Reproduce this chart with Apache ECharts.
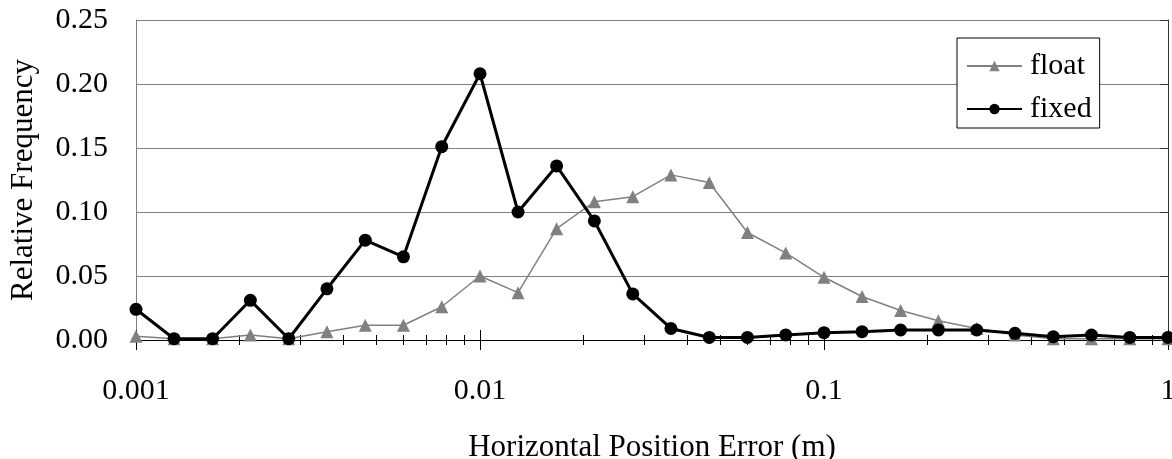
<!DOCTYPE html>
<html>
<head>
<meta charset="UTF-8">
<title>Horizontal Position Error</title>
<script src="https://cdn.jsdelivr.net/npm/echarts@6/dist/echarts.min.js"></script>
<style>
  html, body { margin: 0; padding: 0; background: #fff; }
  #chart { width: 1172px; height: 459px; }
</style>
</head>
<body>
<div id="chart"></div>
<script type="text/javascript">
  // bin centres (m), log spaced
  var binX = [0.001, 0.00129, 0.00167, 0.00215, 0.00278, 0.00359, 0.00464, 0.00599, 0.00774,
              0.01, 0.0129, 0.0167, 0.0215, 0.0278, 0.0359, 0.0464, 0.0599, 0.0774,
              0.1, 0.129, 0.167, 0.215, 0.278, 0.359, 0.464, 0.599, 0.774, 1];
  var floatVals = [0.003, 0.001, 0.001, 0.004, 0.001, 0.0065, 0.0115, 0.0115, 0.026,
                   0.050, 0.037, 0.087, 0.108, 0.112, 0.129, 0.123, 0.084, 0.068,
                   0.049, 0.034, 0.023, 0.015, 0.009, 0.004, 0.001, 0.001, 0.001, 0.001];
  var fixedVals = [0.024, 0.001, 0.001, 0.031, 0.001, 0.040, 0.078, 0.065, 0.151,
                   0.208, 0.100, 0.136, 0.093, 0.036, 0.009, 0.002, 0.002, 0.004,
                   0.0057, 0.0065, 0.0078, 0.0078, 0.0078, 0.0052, 0.0026, 0.0039, 0.002, 0.002];
  var majorTicks = [0.001, 0.01, 0.1, 1];
  var minorTicks = [0.002, 0.003, 0.004, 0.005, 0.006, 0.007, 0.008, 0.009,
                    0.02, 0.03, 0.04, 0.05, 0.06, 0.07, 0.08, 0.09,
                    0.2, 0.3, 0.4, 0.5, 0.6, 0.7, 0.8, 0.9];

  function pairs(ys) {
      return binX.map(function (x, i) { return [x, ys[i]]; });
  }

  var font = 'Liberation Serif';
  // extra x axes only used to draw ticks crossing the axis line
  function tickAxis(vals, len, inside) {
      return {
          type: 'log', logBase: 10, min: 0.001, max: 1, position: 'bottom',
          axisLine: { show: false },
          axisLabel: { show: false },
          splitLine: { show: false },
          axisTick: { show: true, inside: inside, length: len, customValues: vals,
                      lineStyle: { color: '#000', width: 1 } }
      };
  }

  var chart = echarts.init(document.getElementById('chart'));
  var option = {
      animation: false,
      textStyle: { fontFamily: font },
      grid: { left: 136, right: 4, top: 20, bottom: 119, containLabel: false, outerBoundsMode: 'none' },
      legend: {
          orient: 'vertical',
          left: 957, top: 38,
          padding: [13, 8, 4, 9],
          itemGap: 13,
          itemWidth: 55, itemHeight: 13,
          backgroundColor: '#fff',
          borderColor: '#000', borderWidth: 1,
          textStyle: { fontFamily: font, fontSize: 30, color: '#000', padding: [0, 0, 0, 3] },
          data: ['float', 'fixed']
      },
      xAxis: [
          {
              type: 'log', logBase: 10, min: 0.001, max: 1,
              name: 'Horizontal Position Error (m)',
              nameLocation: 'middle', nameGap: 92,
              nameTextStyle: { fontFamily: font, fontSize: 31, color: '#000' },
              axisLine: { show: true, lineStyle: { color: '#000', width: 1 } },
              axisTick: { show: true, length: 10, customValues: majorTicks,
                          lineStyle: { color: '#000' } },
              axisLabel: {
                  customValues: majorTicks, margin: 36,
                  fontFamily: font, fontSize: 30, color: '#000',
                  formatter: function (v) { return String(+(+v).toPrecision(3)); }
              },
              splitLine: { show: false },
              minorTick: { show: false }
          },
          tickAxis(majorTicks, 10, true),
          tickAxis(minorTicks, 5, false),
          tickAxis(minorTicks, 5, true)
      ],
      yAxis: [
          {
              type: 'value', min: 0, max: 0.25, interval: 0.05,
              name: 'Relative Frequency',
              nameLocation: 'middle', nameGap: 97, nameMoveOverlap: false,
              nameTextStyle: { fontFamily: font, fontSize: 31, color: '#000' },
              axisLine: { show: true, lineStyle: { color: '#808080' } },
              axisTick: { show: false },
              axisLabel: {
                  margin: 28, fontFamily: font, fontSize: 30, color: '#000',
                  formatter: function (v) { return v.toFixed(2); }
              },
              splitLine: { show: true, lineStyle: { color: '#808080', width: 1 } }
          },
          {
              type: 'value', min: 0, max: 0.25, interval: 0.05, position: 'right',
              axisLine: { show: true, lineStyle: { color: '#333' } },
              axisTick: { show: true, inside: true, length: 8, lineStyle: { color: '#333' } },
              axisLabel: { show: false },
              splitLine: { show: false }
          }
      ],
      series: [
          {
              name: 'float',
              type: 'line',
              data: pairs(floatVals),
              symbol: 'triangle', symbolSize: 13,
              lineStyle: { color: '#808080', width: 1.5 },
              itemStyle: { color: '#808080' },
              z: 2
          },
          {
              name: 'fixed',
              type: 'line',
              data: pairs(fixedVals),
              symbol: 'circle', symbolSize: 13,
              lineStyle: { color: '#000', width: 3 },
              itemStyle: { color: '#000' },
              z: 3
          }
      ]
  };
  chart.setOption(option);
</script>
</body>
</html>
